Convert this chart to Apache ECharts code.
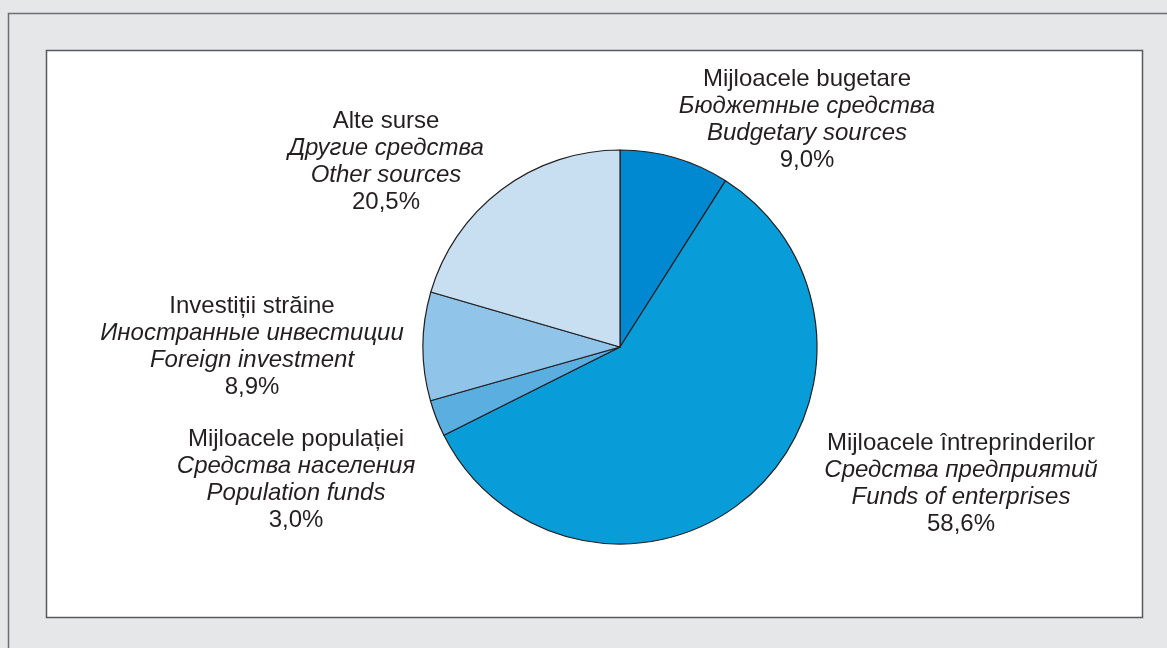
<!DOCTYPE html>
<html>
<head>
<meta charset="utf-8">
<script src="https://cdn.jsdelivr.net/npm/echarts@6/dist/echarts.min.js"></script>
<style>
  html, body { margin: 0; padding: 0; background: #e6e7e8; }
  #main { width: 1167px; height: 648px; }
</style>
</head>
<body>
<div id="main"></div>
<script>
// data, clockwise from 12 o'clock
var namesRo = ['Mijloacele bugetare', 'Mijloacele întreprinderilor', 'Mijloacele populației', 'Investiții străine', 'Alte surse'];
var namesRu = ['Бюджетные средства', 'Средства предприятий', 'Средства населения', 'Иностранные инвестиции', 'Другие средства'];
var namesEn = ['Budgetary sources', 'Funds of enterprises', 'Population funds', 'Foreign investment', 'Other sources'];
var shares = [9.0, 58.6, 3.0, 8.9, 20.5];

var colors = ['#0089d0', '#089dd9', '#5aaee0', '#90c4e9', '#c8dff2'];
// label centres on the page
var labelPos = [[807, 120], [961, 484], [296, 480], [252, 347], [386, 162]];

var myChart = echarts.init(document.getElementById('main'));

var pieData = shares.map(function (v, i) {
    return { name: namesRo[i], value: v, itemStyle: { color: colors[i] } };
});

var option = {
    backgroundColor: '#e6e7e8',
    animation: false,
    graphic: [
        {
            type: 'rect', z: -10, silent: true,
            shape: { x: 8.5, y: 13.5, width: 1200, height: 700 },
            style: { fill: '#e6e7e8', stroke: '#6d6e71', lineWidth: 1.5 }
        },
        {
            type: 'rect', z: -9, silent: true,
            shape: { x: 46.5, y: 50.5, width: 1096, height: 567 },
            style: { fill: '#ffffff', stroke: '#58595b', lineWidth: 1.5 }
        }
    ],
    series: [{
        type: 'pie',
        center: [620, 347],
        radius: 197,
        startAngle: 90,
        clockwise: true,
        data: pieData,
        itemStyle: { borderColor: '#231f20', borderWidth: 1.2 },
        emphasis: { disabled: true },
        labelLine: { show: false },
        label: {
            show: true,
            position: 'outside',
            align: 'center',
            formatter: function (p) {
                var i = p.dataIndex;
                return '{n|' + namesRo[i] + '}\n{i|' + namesRu[i] + '}\n{i|' + namesEn[i] + '}\n{n|' +
                    shares[i].toFixed(1).replace('.', ',') + '%}';
            },
            rich: {
                n: { fontFamily: 'Liberation Sans, Arial', fontSize: 24, color: '#231f20', lineHeight: 27, align: 'center' },
                i: { fontFamily: 'Liberation Sans, Arial', fontSize: 24, fontStyle: 'italic', color: '#231f20', lineHeight: 27, align: 'center' }
            }
        },
        labelLayout: function (params) {
            var pos = labelPos[params.dataIndex];
            return { x: pos[0], y: pos[1], align: 'center', verticalAlign: 'middle' };
        }
    }]
};

myChart.setOption(option);
</script>
</body>
</html>
